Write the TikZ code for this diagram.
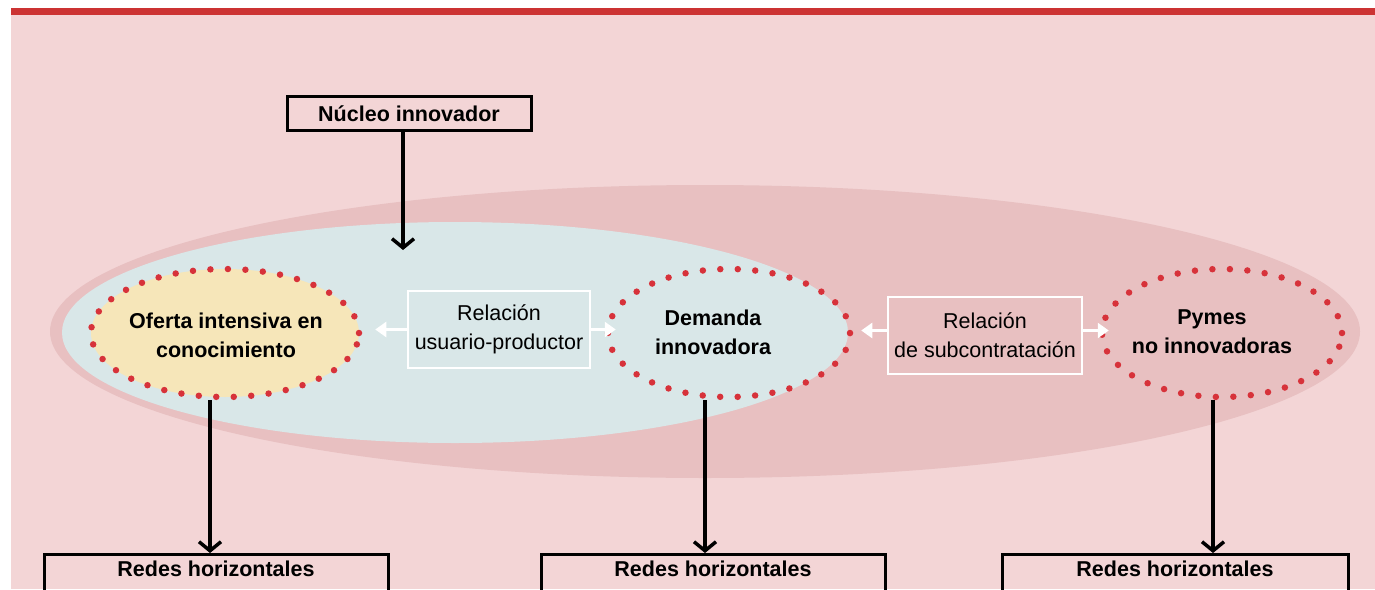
\documentclass[tikz,border=0pt]{standalone}
\usepackage{fontspec}
\setmainfont{Liberation Sans}
\usetikzlibrary{shapes.geometric,arrows.meta}
\definecolor{bgpink}{HTML}{F3D5D6}
\definecolor{outerpink}{HTML}{E8C0C1}
\definecolor{innerblue}{HTML}{D9E7E8}
\definecolor{yellowc}{HTML}{F6E6B9}
\definecolor{dotred}{HTML}{D7323A}
\definecolor{barred}{HTML}{CC3333}
\begin{document}
\begin{tikzpicture}[x=1pt,y=-1pt,
  dotell/.style={ellipse, draw=dotred, line width=6.5pt, dash pattern=on 0pt off 17.5pt, line cap=round, inner sep=0pt},
  txt/.style={font=\fontsize{21.5}{29}\selectfont, align=center, inner sep=0pt},
  btxt/.style={font=\fontsize{21.5}{29}\selectfont\bfseries, align=center, inner sep=0pt},
  blackbox/.style={draw=black, line width=3pt, inner sep=0pt},
  relbox/.style={draw=white, line width=2.5pt, inner sep=0pt},
  blk/.style={line width=3.5pt, -{Straight Barb[length=9pt,width=22pt]}},
  wht/.style={draw=white, line width=2.5pt, -{Triangle[length=11pt,width=15pt]}}]
\useasboundingbox (0,0) rectangle (1375,589);
\begin{scope}
\clip (0,0) rectangle (1375,589);
% panel
\fill[bgpink] (11,8) rectangle (1375,589);
\fill[barred] (11,8) rectangle (1375,15);
% background ellipses
\fill[outerpink] (705,331.5) ellipse [x radius=655, y radius=146.5];
\fill[innerblue] (455,332.5) ellipse [x radius=393, y radius=110.5];
% top box
\node[blackbox, btxt, minimum width=244pt, minimum height=34pt] (nucleo) at (409,113.5) {Núcleo innovador};
\coordinate (nucTip) at (403,250);
\draw[blk] (nucleo.south -| nucTip) -- (nucTip);
% dotted ellipses
\node[dotell, fill=yellowc, minimum width=268pt, minimum height=128pt] (oferta) at (225,333) {};
\node[dotell, minimum width=242pt, minimum height=128pt] (demanda) at (729,333) {};
\node[dotell, minimum width=240pt, minimum height=128pt] (pymes) at (1222,333) {};
\node[btxt] (ofertaT) at (226,335) {Oferta intensiva en\\conocimiento};
\node[btxt] (demandaT) at (713,332) {Demanda\\innovadora};
\node[btxt] (pymesT) at (1212,332) {Pymes\\no innovadoras};
% relation boxes
\node[relbox, txt, minimum width=182pt, minimum height=77pt] (rel1) at (499,329.5) {Relación\\usuario-productor};
\node[relbox, txt, minimum width=194pt, minimum height=77pt] (rel2) at (985,335.5) {Relación\\de subcontratación};
\draw[wht, shorten >=13pt] (rel1.west) -- (rel1.west -| oferta.east);
\draw[wht, shorten >=-11pt] (rel1.east) -- (rel1.east -| demanda.west);
\draw[wht, shorten >=8pt] ([yshift=5pt]rel2.west) -- ([yshift=5pt]rel2.west -| demanda.east);
\draw[wht, shorten >=-10pt] ([yshift=5pt]rel2.east) -- ([yshift=5pt]rel2.east -| pymes.west);
% bottom boxes
\node[blackbox, btxt, anchor=north, minimum width=344pt, text height=22pt, text depth=18pt] (redes1) at (216,553) {Redes horizontales};
\node[blackbox, btxt, anchor=north, minimum width=344pt, text height=22pt, text depth=18pt] (redes2) at (713,553) {Redes horizontales};
\node[blackbox, btxt, anchor=north, minimum width=346pt, text height=22pt, text depth=18pt] (redes3) at (1175,553) {Redes horizontales};
\coordinate (c1) at (210,0);
\coordinate (c2) at (705,0);
\coordinate (c3) at (1213,0);
\draw[blk] (oferta.south -| c1) -- (c1 |- redes1.north);
\draw[blk] (demanda.south -| c2) -- (c2 |- redes2.north);
\draw[blk] (pymes.south -| c3) -- (c3 |- redes3.north);
\end{scope}
\end{tikzpicture}
\end{document}
